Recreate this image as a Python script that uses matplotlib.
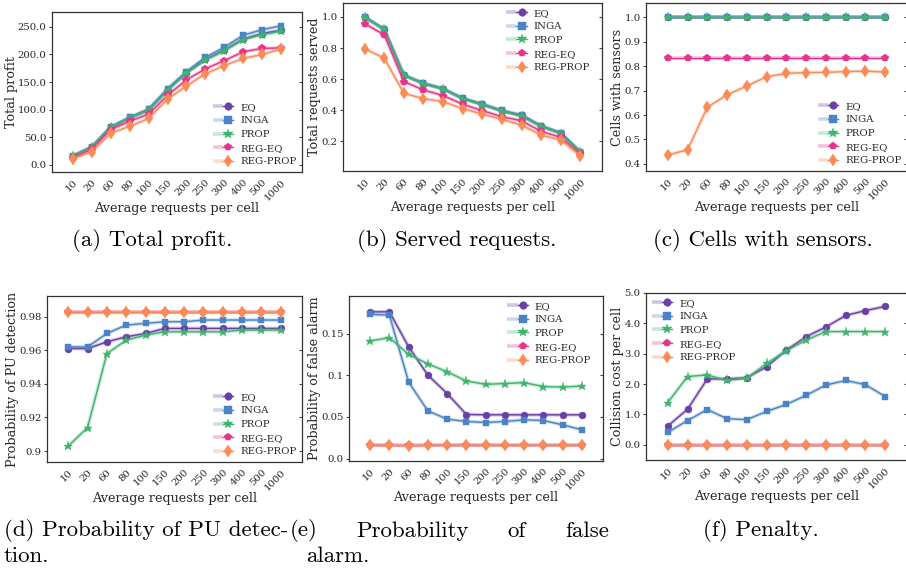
import matplotlib
matplotlib.use("Agg")
import matplotlib.pyplot as plt
from matplotlib.legend_handler import HandlerTuple
import warnings
warnings.filterwarnings("ignore")

# ---------------- data ----------------
categories = ["10", "20", "60", "80", "100", "150", "200", "250", "300", "400", "500", "1000"]
series_names = ["EQ", "INGA", "PROP", "REG-EQ", "REG-PROP"]

# (a) Total profit
profit_eq      = [16, 32, 68, 85, 100, 136, 167, 191, 208, 228, 238, 244]
profit_inga    = [16, 33, 69, 86, 101, 138, 169, 195, 213, 235, 245, 252]
profit_prop    = [16, 32, 68, 85, 99, 135, 166, 190, 207, 227, 236, 242]
profit_regeq   = [13, 28, 64, 79, 92, 126, 154, 174, 189, 205, 211, 212]
profit_regprop = [11, 24, 57, 70, 84, 119, 143, 165, 180, 193, 200, 210]

# (b) Served requests
served_eq      = [1.0, 0.92, 0.625, 0.572, 0.538, 0.476, 0.438, 0.396, 0.367, 0.298, 0.253, 0.131]
served_inga    = [1.0, 0.923, 0.628, 0.575, 0.540, 0.478, 0.441, 0.399, 0.370, 0.301, 0.256, 0.133]
served_prop    = [1.0, 0.92, 0.625, 0.572, 0.537, 0.475, 0.436, 0.395, 0.362, 0.296, 0.251, 0.130]
served_regeq   = [0.957, 0.886, 0.585, 0.531, 0.495, 0.439, 0.398, 0.359, 0.333, 0.265, 0.226, 0.118]
served_regprop = [0.796, 0.735, 0.510, 0.475, 0.456, 0.411, 0.376, 0.342, 0.305, 0.241, 0.209, 0.108]

# (c) Cells with sensors
cells_eq      = [1.0] * 12
cells_inga    = [1.0] * 12
cells_prop    = [1.0] * 12
cells_regeq   = [0.833] * 12
cells_regprop = [0.437, 0.457, 0.632, 0.683, 0.719, 0.757, 0.771, 0.774, 0.775, 0.778, 0.780, 0.776]

# (d) Probability of PU detection
pud_eq      = [0.961, 0.961, 0.965, 0.968, 0.970, 0.973, 0.973, 0.973, 0.973, 0.973, 0.973, 0.973]
pud_inga    = [0.962, 0.962, 0.970, 0.975, 0.976, 0.977, 0.977, 0.978, 0.978, 0.978, 0.978, 0.978]
pud_prop    = [0.903, 0.914, 0.958, 0.966, 0.969, 0.971, 0.971, 0.971, 0.971, 0.972, 0.972, 0.972]
pud_regeq   = [0.983] * 12
pud_regprop = [0.983] * 12

# (e) Probability of false alarm
pfa_eq      = [0.176, 0.176, 0.134, 0.100, 0.078, 0.0528, 0.0524, 0.0524, 0.0524, 0.0524, 0.0524, 0.0524]
pfa_inga    = [0.173, 0.172, 0.0916, 0.0572, 0.0472, 0.0444, 0.0432, 0.0444, 0.0464, 0.0456, 0.0404, 0.0344]
pfa_prop    = [0.141, 0.145, 0.125, 0.1136, 0.104, 0.093, 0.089, 0.090, 0.091, 0.0864, 0.0856, 0.087]
pfa_regeq   = [0.016] * 12
pfa_regprop = [0.016, 0.016, 0.015, 0.016, 0.016, 0.016, 0.016, 0.016, 0.016, 0.016, 0.016, 0.016]

# (f) Collision cost per cell
coll_eq      = [0.62, 1.17, 2.17, 2.17, 2.21, 2.57, 3.12, 3.56, 3.88, 4.26, 4.42, 4.56]
coll_inga    = [0.41, 0.80, 1.16, 0.86, 0.83, 1.10, 1.33, 1.63, 1.97, 2.12, 1.98, 1.59]
coll_prop    = [1.39, 2.25, 2.30, 2.12, 2.19, 2.68, 3.10, 3.45, 3.73, 3.73, 3.73, 3.73]
coll_regeq   = [0.0] * 12
coll_regprop = [0.0] * 12

# tick values / labels
yt_a = [0, 50, 100, 150, 200, 250]
yl_a = ["0.0", "50.0", "100.0", "150.0", "200.0", "250.0"]
yt_b = [0.2, 0.4, 0.6, 0.8, 1.0]
yl_b = ["0.2", "0.4", "0.6", "0.8", "1.0"]
yt_c = [0.4, 0.5, 0.6, 0.7, 0.8, 0.9, 1.0]
yl_c = ["0.4", "0.5", "0.6", "0.7", "0.8", "0.9", "1.0"]
yt_d = [0.90, 0.92, 0.94, 0.96, 0.98]
yl_d = ["0.9", "0.92", "0.94", "0.96", "0.98"]
yt_e = [0.0, 0.05, 0.10, 0.15]
yl_e = ["0.0", "0.05", "0.1", "0.15"]
yt_f = [0, 1, 2, 3, 4, 5]
yl_f = ["0.0", "1.0", "2.0", "3.0", "4.0", "5.0"]

ylabels = ["Total profit", "Total requests served", "Cells with sensors",
           "Probability of PU detection", "Probability of false alarm", "Collision cost per cell"]
xlabel = "Average requests per cell"

# ---------------- style ----------------
colors = ["#6a3fa8", "#4a84c6", "#3fb56c", "#e8338a", "#fb8a55"]
markers = ["o", "s", "*", "p", "d"]
msizes = [5, 5, 6.5, 5.5, 6]

W, H = 906, 571
fig = plt.figure(figsize=(W / 100, H / 100), dpi=100)
fig.patch.set_facecolor("white")

def rect(l, t, r, b):
    return [l / W, 1 - b / H, (r - l) / W, (b - t) / H]

TXT = "#262626"
SERIF = "DejaVu Serif"

panels = [
    dict(r=(52, 12, 302, 172), data=[profit_eq, profit_inga, profit_prop, profit_regeq, profit_regprop],
         ylim=(-13, 277), yt=yt_a, yl=yl_a, loc="lower right", anchor=(1.0, 0.0)),
    dict(r=(343, 3, 602, 171), data=[served_eq, served_inga, served_prop, served_regeq, served_regprop],
         ylim=(0.01, 1.09), yt=yt_b, yl=yl_b, loc="upper right", anchor=(0.975, 1.0)),
    dict(r=(646, 3, 907, 171), data=[cells_eq, cells_inga, cells_prop, cells_regeq, cells_regprop],
         ylim=(0.371, 1.059), yt=yt_c, yl=yl_c, loc="lower right", anchor=(1.0, 0.0)),
    dict(r=(47, 296, 302, 462), data=[pud_eq, pud_inga, pud_prop, pud_regeq, pud_regprop],
         ylim=(0.8935, 0.9923), yt=yt_d, yl=yl_d, loc="lower right", anchor=(1.0, 0.0)),
    dict(r=(349, 296, 603, 461), data=[pfa_eq, pfa_inga, pfa_prop, pfa_regeq, pfa_regprop],
         ylim=(-0.003, 0.195), yt=yt_e, yl=yl_e, loc="upper right", anchor=(0.975, 1.0)),
    dict(r=(646, 293, 907, 460), data=[coll_eq, coll_inga, coll_prop, coll_regeq, coll_regprop],
         ylim=(-0.5, 5.0), yt=yt_f, yl=yl_f, loc="upper left", anchor=(0.0, 1.0)),
]

xs = list(range(len(categories)))

for i, p in enumerate(panels):
    ax = fig.add_axes(rect(*p["r"]))
    handles = []
    for j, ys in enumerate(p["data"]):
        halo, = ax.plot(xs, ys, color=colors[j], lw=2.6, alpha=0.3, solid_capstyle="butt", zorder=2 + j)
        ln, = ax.plot(xs, ys, color=colors[j], lw=1.0, marker=markers[j], markersize=msizes[j],
                      markeredgewidth=0.3, markeredgecolor=colors[j], zorder=3 + j)
        handles.append((halo, ln))
    ax.set_xlim(-1.1, 12.1)
    ax.set_ylim(*p["ylim"])
    ax.set_xticks(xs)
    ax.set_xticklabels(categories, rotation=45, ha="right", rotation_mode="anchor",
                       fontsize=7.3, family=SERIF, color=TXT)
    ax.set_yticks(p["yt"])
    ax.set_yticklabels(p["yl"], fontsize=7.3, family=SERIF, color=TXT)
    ax.tick_params(axis="x", length=0, pad=4)
    ax.tick_params(axis="y", direction="out", length=2.5, width=0.8, pad=1.5, colors="#444444",
                   labelcolor=TXT)
    sec = ax.secondary_yaxis("right")
    sec.set_yticks(p["yt"])
    sec.tick_params(direction="in", length=2.5, width=0.8, labelright=False, colors="#444444")
    sec.spines["right"].set_visible(False)
    for s in ax.spines.values():
        s.set_color("#333333")
        s.set_linewidth(0.9)
    ax.set_xlabel(xlabel, fontsize=9.2, family=SERIF, color=TXT, labelpad=0)
    ax.set_ylabel(ylabels[i], fontsize=9.2, family=SERIF, color=TXT, labelpad=0)
    leg = ax.legend(handles, series_names, loc=p["loc"], bbox_to_anchor=p["anchor"],
                    frameon=False, prop={"family": SERIF, "size": 7.3},
                    handler_map={tuple: HandlerTuple(ndivide=None, pad=0)},
                    handlelength=2.0, labelspacing=0.45, borderaxespad=0.15, handletextpad=0.7,
                    markerscale=1.1)
    for t in leg.get_texts():
        t.set_color(TXT)

# ---------------- captions ----------------
CAP = dict(family="cmr10", fontsize=16.5, color="black", va="center")
fig.text(72 / W, 1 - 240 / H, "(a) Total profit.", ha="left", **CAP)
fig.text(357 / W, 1 - 240 / H, "(b) Served requests.", ha="left", **CAP)
fig.text(653 / W, 1 - 240 / H, "(c) Cells with sensors.", ha="left", **CAP)

y1 = 1 - 531 / H
y2 = 1 - 556 / H
td = fig.text(4 / W, y1, "(d) Probability of PU detec-", ha="left", **CAP)
fig.text(4 / W, y2, "tion.", ha="left", **CAP)
fig.text(703 / W, y1, "(f) Penalty.", ha="left", **CAP)

# justified caption line for (e)
fig.canvas.draw()
renderer = fig.canvas.get_renderer()
d_end = td.get_window_extent(renderer).x1
words = ["(e)", "Probability", "of", "false"]
left_px = d_end + 1
right_px = 609
objs = [fig.text(0, y1, w, ha="left", **CAP) for w in words]
widths = [o.get_window_extent(renderer).width for o in objs]
gap = (right_px - left_px - sum(widths)) / (len(words) - 1)
x = left_px
for o, w in zip(objs, widths):
    o.set_x(x / W)
    x += w + gap
fig.text(306 / W, y2, "alarm.", ha="left", **CAP)

fig.savefig("out.png", dpi=100, facecolor="white")
